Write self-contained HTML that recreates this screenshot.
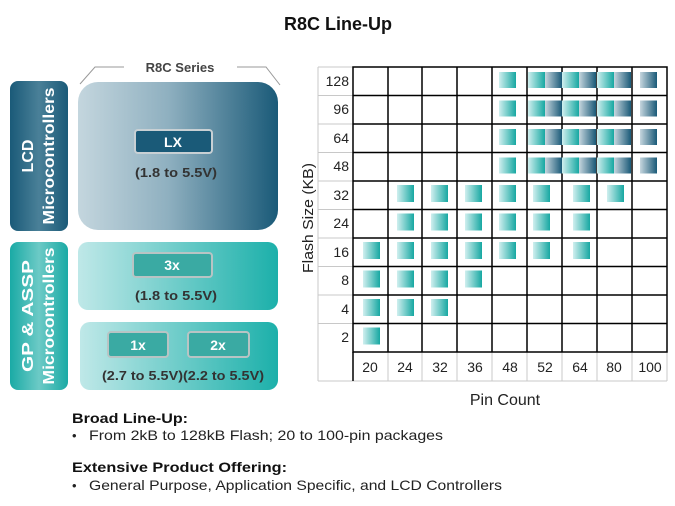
<!DOCTYPE html>
<html><head><meta charset="utf-8"><style>
html,body{margin:0;padding:0;background:#fff;}
svg{display:block;font-family:"Liberation Sans",sans-serif;}
</style></head><body>
<svg width="675" height="506" viewBox="0 0 675 506" xmlns="http://www.w3.org/2000/svg">
<defs>
<linearGradient id="lcd" x1="0" x2="1" y1="0" y2="0"><stop offset="0" stop-color="#c4d6de"/><stop offset="0.45" stop-color="#8fb0c0"/><stop offset="1" stop-color="#1a5a78"/></linearGradient>
<linearGradient id="lcdtab" x1="0" x2="1"><stop offset="0" stop-color="#1a5a78"/><stop offset="0.5" stop-color="#4a8098"/><stop offset="1" stop-color="#1a5a78"/></linearGradient>
<linearGradient id="gp" x1="0" x2="1"><stop offset="0" stop-color="#bfe8e8"/><stop offset="1" stop-color="#1cb0aa"/></linearGradient>
<linearGradient id="gptab" x1="0" x2="1"><stop offset="0" stop-color="#1aaaa5"/><stop offset="0.5" stop-color="#6ccac6"/><stop offset="1" stop-color="#1aaaa5"/></linearGradient>
<linearGradient id="t" x1="0" x2="1"><stop offset="0" stop-color="#d0efef"/><stop offset="1" stop-color="#17a8a2"/></linearGradient>
<linearGradient id="d" x1="0" x2="1"><stop offset="0" stop-color="#c6d6de"/><stop offset="1" stop-color="#1a5a78"/></linearGradient>
</defs>
<text x="338" y="30" font-size="18" font-weight="bold" text-anchor="middle" fill="#111">R8C Line-Up</text>

<!-- left panel -->
<polyline points="80,84 95,67 124,67" fill="none" stroke="#999" stroke-width="1"/>
<polyline points="237,67 266,67 280,85" fill="none" stroke="#999" stroke-width="1"/>
<text x="180" y="72" font-size="13" font-weight="bold" text-anchor="middle" fill="#444">R8C Series</text>

<rect x="10" y="81" width="58" height="150" rx="8" fill="url(#lcdtab)"/>
<text transform="translate(39,156) rotate(-90)" font-size="16" font-weight="bold" fill="#fff" text-anchor="middle"><tspan x="0" y="-6">LCD</tspan><tspan x="0" y="15" textLength="137" lengthAdjust="spacingAndGlyphs">Microcontrollers</tspan></text>
<rect x="78" y="82" width="200" height="148" rx="20" fill="url(#lcd)"/>
<rect x="135" y="130" width="77" height="23" rx="3" fill="#1a5a78" stroke="#c8d0d4" stroke-width="2"/>
<text x="173" y="147" font-size="14" font-weight="bold" fill="#fff" text-anchor="middle">LX</text>
<text x="176" y="177" font-size="13" font-weight="bold" fill="#333" text-anchor="middle" textLength="82" lengthAdjust="spacingAndGlyphs">(1.8 to 5.5V)</text>

<rect x="10" y="242" width="58" height="148" rx="8" fill="url(#gptab)"/>
<text transform="translate(39,316) rotate(-90)" font-size="16" font-weight="bold" fill="#fff" text-anchor="middle"><tspan x="0" y="-6" textLength="112" lengthAdjust="spacingAndGlyphs">GP &amp; ASSP</tspan><tspan x="0" y="15" textLength="137" lengthAdjust="spacingAndGlyphs">Microcontrollers</tspan></text>
<rect x="78" y="242" width="200" height="68" rx="10" fill="url(#gp)"/>
<rect x="133" y="253" width="79" height="24" rx="3" fill="#3aaaa3" stroke="#b8c4c4" stroke-width="2"/>
<text x="172" y="270" font-size="14" font-weight="bold" fill="#fff" text-anchor="middle">3x</text>
<text x="176" y="300" font-size="13" font-weight="bold" fill="#333" text-anchor="middle" textLength="82" lengthAdjust="spacingAndGlyphs">(1.8 to 5.5V)</text>
<rect x="80" y="322" width="198" height="68" rx="10" fill="url(#gp)"/>
<rect x="108" y="332" width="60" height="25" rx="3" fill="#3aaaa3" stroke="#b8c4c4" stroke-width="2"/>
<text x="138" y="350" font-size="14" font-weight="bold" fill="#fff" text-anchor="middle">1x</text>
<rect x="188" y="332" width="61" height="25" rx="3" fill="#3aaaa3" stroke="#b8c4c4" stroke-width="2"/>
<text x="218" y="350" font-size="14" font-weight="bold" fill="#fff" text-anchor="middle">2x</text>
<text x="183" y="380" font-size="13" font-weight="bold" fill="#333" text-anchor="middle" textLength="162" lengthAdjust="spacingAndGlyphs">(2.7 to 5.5V)(2.2 to 5.5V)</text>

<!-- grid -->
<g stroke="#c8c8c8" stroke-width="1" fill="none">
<line x1="318" y1="67" x2="318" y2="381"/>
<line x1="318" y1="381" x2="667" y2="381"/>
<line x1="318" y1="67" x2="353" y2="67"/>
<line x1="318" y1="95.5" x2="353" y2="95.5"/><line x1="318" y1="124" x2="353" y2="124"/><line x1="318" y1="152.5" x2="353" y2="152.5"/><line x1="318" y1="181" x2="353" y2="181"/><line x1="318" y1="209.5" x2="353" y2="209.5"/><line x1="318" y1="238" x2="353" y2="238"/><line x1="318" y1="266.5" x2="353" y2="266.5"/><line x1="318" y1="295" x2="353" y2="295"/><line x1="318" y1="323.5" x2="353" y2="323.5"/>
<line x1="388" y1="352" x2="388" y2="381"/><line x1="422" y1="352" x2="422" y2="381"/><line x1="457" y1="352" x2="457" y2="381"/><line x1="492" y1="352" x2="492" y2="381"/><line x1="527" y1="352" x2="527" y2="381"/><line x1="562" y1="352" x2="562" y2="381"/><line x1="597" y1="352" x2="597" y2="381"/><line x1="632" y1="352" x2="632" y2="381"/><line x1="667" y1="352" x2="667" y2="381"/>
</g>
<g stroke="#000" stroke-width="1.5" fill="none">
<rect x="353" y="67" width="314" height="285"/>
<line x1="353" y1="95.5" x2="667" y2="95.5"/><line x1="353" y1="124" x2="667" y2="124"/><line x1="353" y1="152.5" x2="667" y2="152.5"/><line x1="353" y1="181" x2="667" y2="181"/><line x1="353" y1="209.5" x2="667" y2="209.5"/><line x1="353" y1="238" x2="667" y2="238"/><line x1="353" y1="266.5" x2="667" y2="266.5"/><line x1="353" y1="295" x2="667" y2="295"/><line x1="353" y1="323.5" x2="667" y2="323.5"/>
<line x1="388" y1="67" x2="388" y2="352"/><line x1="422" y1="67" x2="422" y2="352"/><line x1="457" y1="67" x2="457" y2="352"/><line x1="492" y1="67" x2="492" y2="352"/><line x1="527" y1="67" x2="527" y2="352"/><line x1="562" y1="67" x2="562" y2="352"/><line x1="597" y1="67" x2="597" y2="352"/><line x1="632" y1="67" x2="632" y2="352"/>
<line x1="353" y1="352" x2="353" y2="381"/>
</g>
<g font-size="14" fill="#222" text-anchor="end">
<text x="349" y="86">128</text><text x="349" y="114">96</text><text x="349" y="143">64</text><text x="349" y="171">48</text><text x="349" y="200">32</text><text x="349" y="228">24</text><text x="349" y="257">16</text><text x="349" y="285">8</text><text x="349" y="314">4</text><text x="349" y="342">2</text>
</g>
<g font-size="14" fill="#222" text-anchor="middle">
<text x="370" y="372">20</text><text x="405" y="372">24</text><text x="440" y="372">32</text><text x="475" y="372">36</text><text x="510" y="372">48</text><text x="545" y="372">52</text><text x="580" y="372">64</text><text x="614" y="372">80</text><text x="650" y="372">100</text>
</g>
<text x="505" y="405" font-size="16" fill="#222" text-anchor="middle">Pin Count</text>
<text transform="translate(313,218) rotate(-90)" font-size="15" fill="#222" text-anchor="middle" textLength="110" lengthAdjust="spacingAndGlyphs">Flash Size (KB)</text>

<!-- upper squares -->
<g>
<rect x="499" y="72" width="17" height="16" fill="url(#t)"/><rect x="528" y="72" width="17" height="16" fill="url(#t)"/><rect x="545" y="72" width="17" height="16" fill="url(#d)"/><rect x="562" y="72" width="17" height="16" fill="url(#t)"/><rect x="579" y="72" width="17" height="16" fill="url(#d)"/><rect x="597" y="72" width="17" height="16" fill="url(#t)"/><rect x="614" y="72" width="17" height="16" fill="url(#d)"/><rect x="640" y="72" width="17" height="16" fill="url(#d)"/>
<rect x="499" y="100.5" width="17" height="16" fill="url(#t)"/><rect x="528" y="100.5" width="17" height="16" fill="url(#t)"/><rect x="545" y="100.5" width="17" height="16" fill="url(#d)"/><rect x="562" y="100.5" width="17" height="16" fill="url(#t)"/><rect x="579" y="100.5" width="17" height="16" fill="url(#d)"/><rect x="597" y="100.5" width="17" height="16" fill="url(#t)"/><rect x="614" y="100.5" width="17" height="16" fill="url(#d)"/><rect x="640" y="100.5" width="17" height="16" fill="url(#d)"/>
<rect x="499" y="129" width="17" height="16" fill="url(#t)"/><rect x="528" y="129" width="17" height="16" fill="url(#t)"/><rect x="545" y="129" width="17" height="16" fill="url(#d)"/><rect x="562" y="129" width="17" height="16" fill="url(#t)"/><rect x="579" y="129" width="17" height="16" fill="url(#d)"/><rect x="597" y="129" width="17" height="16" fill="url(#t)"/><rect x="614" y="129" width="17" height="16" fill="url(#d)"/><rect x="640" y="129" width="17" height="16" fill="url(#d)"/>
<rect x="499" y="157.5" width="17" height="16" fill="url(#t)"/><rect x="528" y="157.5" width="17" height="16" fill="url(#t)"/><rect x="545" y="157.5" width="17" height="16" fill="url(#d)"/><rect x="562" y="157.5" width="17" height="16" fill="url(#t)"/><rect x="579" y="157.5" width="17" height="16" fill="url(#d)"/><rect x="597" y="157.5" width="17" height="16" fill="url(#t)"/><rect x="614" y="157.5" width="17" height="16" fill="url(#d)"/><rect x="640" y="157.5" width="17" height="16" fill="url(#d)"/>
</g>
<!-- lower squares -->
<g fill="url(#t)">
<rect x="397" y="185" width="17" height="17"/><rect x="431" y="185" width="17" height="17"/><rect x="465" y="185" width="17" height="17"/><rect x="499" y="185" width="17" height="17"/><rect x="533" y="185" width="17" height="17"/><rect x="573" y="185" width="17" height="17"/><rect x="607" y="185" width="17" height="17"/>
<rect x="397" y="213.5" width="17" height="17"/><rect x="431" y="213.5" width="17" height="17"/><rect x="465" y="213.5" width="17" height="17"/><rect x="499" y="213.5" width="17" height="17"/><rect x="533" y="213.5" width="17" height="17"/><rect x="573" y="213.5" width="17" height="17"/>
<rect x="363" y="242" width="17" height="17"/><rect x="397" y="242" width="17" height="17"/><rect x="431" y="242" width="17" height="17"/><rect x="465" y="242" width="17" height="17"/><rect x="499" y="242" width="17" height="17"/><rect x="533" y="242" width="17" height="17"/><rect x="573" y="242" width="17" height="17"/>
<rect x="363" y="270.5" width="17" height="17"/><rect x="397" y="270.5" width="17" height="17"/><rect x="431" y="270.5" width="17" height="17"/><rect x="465" y="270.5" width="17" height="17"/>
<rect x="363" y="299" width="17" height="17"/><rect x="397" y="299" width="17" height="17"/><rect x="431" y="299" width="17" height="17"/>
<rect x="363" y="327.5" width="17" height="17"/>
</g>

<!-- bottom text -->
<text x="72" y="423" font-size="14" font-weight="bold" fill="#111" textLength="116" lengthAdjust="spacingAndGlyphs">Broad Line-Up:</text>
<text x="72" y="440" font-size="13" fill="#222">•</text>
<text x="89" y="440" font-size="14" fill="#222" textLength="354" lengthAdjust="spacingAndGlyphs">From 2kB to 128kB Flash; 20 to 100-pin packages</text>
<text x="72" y="472" font-size="14" font-weight="bold" fill="#111" textLength="215" lengthAdjust="spacingAndGlyphs">Extensive Product Offering:</text>
<text x="72" y="490" font-size="13" fill="#222">•</text>
<text x="89" y="490" font-size="14" fill="#222" textLength="413" lengthAdjust="spacingAndGlyphs">General Purpose, Application Specific, and LCD Controllers</text>
</svg>
</body></html>
